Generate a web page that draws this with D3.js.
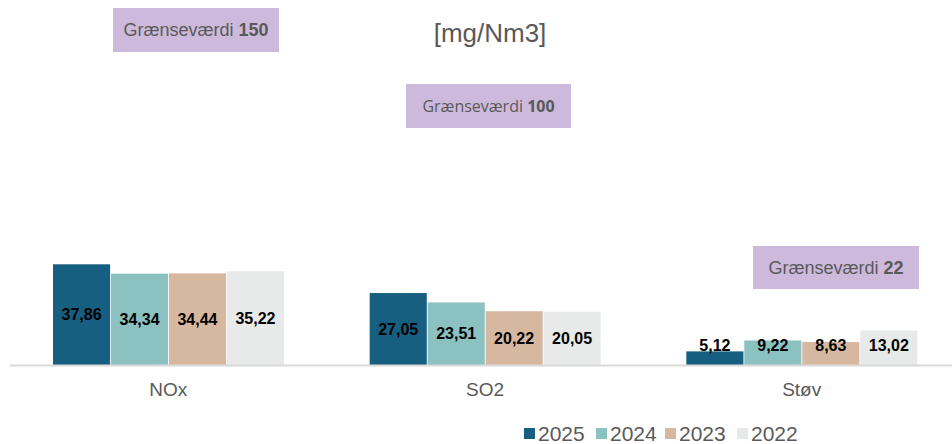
<!DOCTYPE html>
<html><head><meta charset="utf-8">
<script src="https://cdn.jsdelivr.net/npm/d3@7"></script>
<style>body{margin:0;background:#fff}svg{display:block}</style>
</head><body>
<svg id="c" width="952" height="444"></svg>
<script>
const categories = ["NOx", "SO2", "Støv"];
const years = ["2025", "2024", "2023", "2022"];
const v2025 = [37.86, 27.05, 5.12];
const v2024 = [34.34, 23.51, 9.22];
const v2023 = [34.44, 20.22, 8.63];
const v2022 = [35.22, 20.05, 13.02];
const limitLabels = ["150", "100", "22"];
const colors = ["#175f80", "#8bc1c0", "#d6b8a0", "#e7eae9"];

const series = [v2025, v2024, v2023, v2022];
const svg = d3.select("#c");
const baseY = 365;
const x0 = d3.scaleBand().domain(categories).range([10, 960]).paddingInner(0).paddingOuter(0);
const x1 = d3.scaleBand().domain(years).range([43, 274]).paddingInner(0.015);
const y = d3.scaleLinear().domain([0, 100]).range([baseY, baseY - 266]);
const fmt = v => d3.format(".2f")(v).replace(".", ",");

categories.forEach((c, ci) => {
  const g = svg.append("g").attr("transform", `translate(${x0(c)},0)`);
  years.forEach((yr, si) => {
    const v = series[si][ci];
    g.append("rect").attr("x", x1(yr)).attr("y", y(v))
      .attr("width", x1.bandwidth()).attr("height", baseY - y(v)).attr("fill", colors[si]);
    const cy = Math.min((y(v) + baseY) / 2, 345);
    g.append("text").attr("x", x1(yr) + x1.bandwidth() / 2).attr("y", cy)
      .attr("text-anchor", "middle").attr("dominant-baseline", "central")
      .attr("font-family", "Liberation Sans, Arial, sans-serif").attr("font-weight", "bold")
      .attr("font-size", 16).attr("fill", "#000").text(fmt(v));
  });
});

svg.append("line").attr("x1", 10).attr("x2", 952).attr("y1", baseY + 0.5).attr("y2", baseY + 0.5)
  .attr("stroke", "#d9d9d9").attr("stroke-width", 2);

const ax = svg.append("g").attr("transform", `translate(0,${baseY})`)
  .call(d3.axisBottom(x0).tickSize(0).tickPadding(18));
ax.select(".domain").remove();
ax.selectAll("text").attr("font-family", "Liberation Sans, Arial, sans-serif")
  .attr("font-size", 19).attr("fill", "#595959");

svg.append("text").attr("x", 490).attr("y", 42).attr("text-anchor", "middle")
  .attr("font-family", "Liberation Sans, Arial, sans-serif").attr("font-size", 26)
  .attr("fill", "#595959").text("[mg/Nm3]");

const boxes = [
  {x: 113, y: 8, w: 166, h: 44, font: "Liberation Sans, Arial, sans-serif", size: 18},
  {x: 406, y: 84, w: 165, h: 44, font: "Open Sans, sans-serif", size: 16},
  {x: 753, y: 246, w: 166, h: 43, font: "Liberation Sans, Arial, sans-serif", size: 18}
];
boxes.forEach((b, i) => {
  svg.append("rect").attr("x", b.x).attr("y", b.y).attr("width", b.w).attr("height", b.h).attr("fill", "#cdb9dc");
  const t = svg.append("text").attr("x", b.x + b.w / 2).attr("y", b.y + b.h / 2)
    .attr("text-anchor", "middle").attr("dominant-baseline", "central")
    .attr("font-family", b.font).attr("font-size", b.size).attr("fill", "#595959");
  t.append("tspan").text("Grænseværdi ");
  t.append("tspan").attr("font-weight", "bold").text(limitLabels[i]);
});

const legX = [524, 596, 665, 737];
years.forEach((yr, i) => {
  svg.append("rect").attr("x", legX[i]).attr("y", 428).attr("width", 11).attr("height", 11).attr("fill", colors[i]);
  svg.append("text").attr("x", legX[i] + 14).attr("y", 441)
    .attr("font-family", "Liberation Sans, Arial, sans-serif").attr("font-size", 21)
    .attr("fill", "#595959").text(yr);
});
</script>
</body></html>
